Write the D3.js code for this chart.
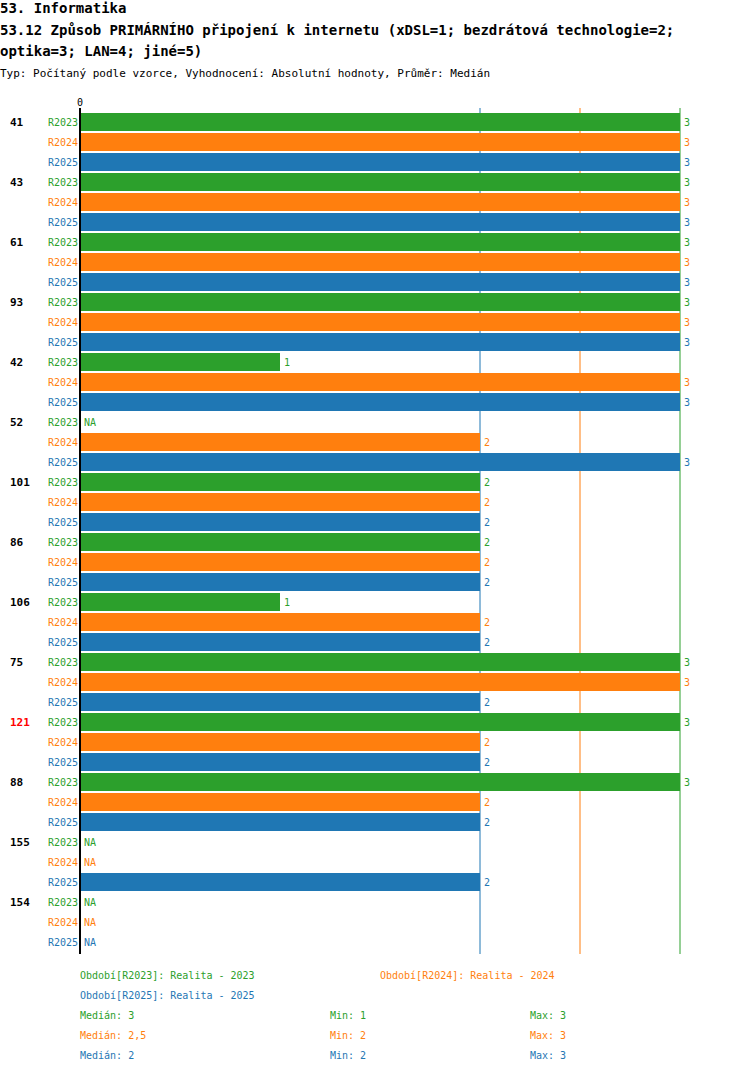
<!DOCTYPE html>
<html><head><meta charset="utf-8">
<script src="https://cdn.jsdelivr.net/npm/d3@7"></script>
<style>body{margin:0;background:#fff}text{font-family:"DejaVu Sans Mono",monospace}</style>
</head><body><svg id="chart" width="750" height="1074"></svg>
<script>
const categories = ['41','43','61','93','42','52','101','86','106','75','121','88','155','154'];
const highlighted = ['121'];
const series = ['R2023','R2024','R2025'];
const colors = ['#2ca02c','#ff7f0e','#1f77b4'];
const values = {
  R2023: [3,3,3,3,1,null,2,2,1,3,3,3,null,null],
  R2024: [3,3,3,3,3,2,2,2,2,3,2,2,null,null],
  R2025: [3,3,3,3,3,3,2,2,2,2,2,2,2,null]
};
const medians = [3,2.5,2];
const mins = [1,2,2];
const maxs = [3,3,3];
const legendLabels = ['Období[R2023]: Realita - 2023','Období[R2024]: Realita - 2024','Období[R2025]: Realita - 2025'];

const svg = d3.select('#chart');
const x = d3.scaleLinear().domain([0,3]).range([80,680]);
const y = d3.scaleBand().domain(categories).range([112,952]);
const sub = d3.scaleBand().domain(series).range([0,60]).paddingInner(0.1).paddingOuter(0.05);

svg.append('text').attr('x',0).attr('y',13).attr('font-size',14).attr('font-weight','bold').text('53. Informatika');
svg.append('text').attr('x',0).attr('y',35).attr('font-size',14).attr('font-weight','bold').text('53.12 Způsob PRIMÁRNÍHO připojení k internetu (xDSL=1; bezdrátová technologie=2;');
svg.append('text').attr('x',0).attr('y',56).attr('font-size',14).attr('font-weight','bold').text('optika=3; LAN=4; jiné=5)');
svg.append('text').attr('x',0).attr('y',77).attr('font-size',11).text('Typ: Počítaný podle vzorce, Vyhodnocení: Absolutní hodnoty, Průměr: Medián');

// median lines
medians.forEach((m,i) => {
  svg.append('line').attr('x1',x(m)).attr('x2',x(m)).attr('y1',108).attr('y2',954)
    .attr('stroke',colors[i]).attr('stroke-width',1);
});

categories.forEach((c,ci) => {
  const gy = y(c);
  svg.append('text').attr('x',10).attr('y',gy+sub('R2023')+sub.bandwidth()/2+4)
    .attr('font-size',11).attr('font-weight','bold')
    .attr('fill',highlighted.includes(c)?'#ff0000':'#000').text(c);
  series.forEach((s,si) => {
    const by = gy+sub(s);
    const v = values[s][ci];
    svg.append('text').attr('x',78).attr('y',by+sub.bandwidth()/2+4).attr('text-anchor','end')
      .attr('font-size',10).attr('fill',colors[si]).text(s);
    if (v != null) {
      svg.append('rect').attr('x',x(0)).attr('y',by).attr('width',x(v)-x(0)).attr('height',sub.bandwidth())
        .attr('fill',colors[si]);
    }
    svg.append('text').attr('x',(v==null?x(0):x(v))+4).attr('y',by+sub.bandwidth()/2+4)
      .attr('font-size',10).attr('fill',colors[si]).text(v==null?'NA':v);
  });
});

svg.append('line').attr('x1',x(0)).attr('x2',x(0)).attr('y1',108).attr('y2',954).attr('stroke','#000').attr('stroke-width',2);
svg.append('text').attr('x',x(0)).attr('y',106).attr('text-anchor','middle').attr('font-size',10).text('0');

const leg = [[80,979,0],[380,979,1],[80,999,2]];
leg.forEach(([lx,ly,i]) => svg.append('text').attr('x',lx).attr('y',ly).attr('font-size',10).attr('fill',colors[i]).text(legendLabels[i]));
const fmt = v => String(v).replace('.',',');
series.forEach((s,i) => {
  const ly = 1019 + i*20;
  svg.append('text').attr('x',80).attr('y',ly).attr('font-size',10).attr('fill',colors[i]).text('Medián: '+fmt(medians[i]));
  svg.append('text').attr('x',330).attr('y',ly).attr('font-size',10).attr('fill',colors[i]).text('Min: '+mins[i]);
  svg.append('text').attr('x',530).attr('y',ly).attr('font-size',10).attr('fill',colors[i]).text('Max: '+maxs[i]);
});
</script></body></html>
